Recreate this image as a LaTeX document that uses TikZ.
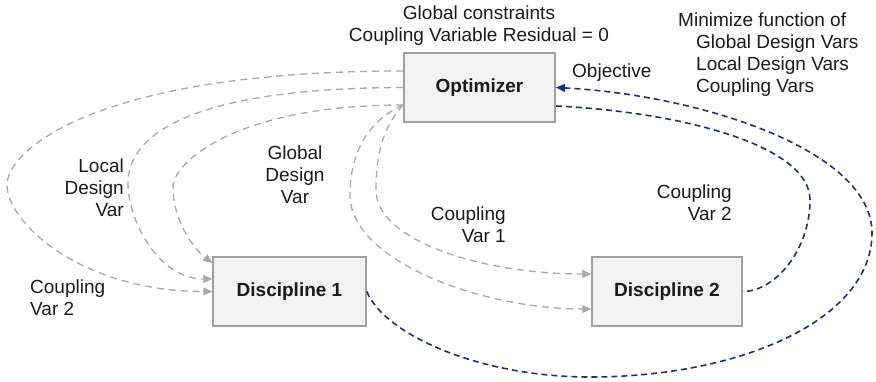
\documentclass[tikz,border=0pt]{standalone}
\usepackage{fontspec}
\setmainfont{Liberation Sans}
\usetikzlibrary{arrows.meta}
\definecolor{boxfill}{HTML}{F3F3F3}
\definecolor{boxline}{HTML}{A0A0A0}
\definecolor{flowgray}{HTML}{A8A8A8}
\definecolor{flowblue}{RGB}{35,45,125}
\definecolor{ink}{HTML}{1A1A1A}

\begin{document}
\begin{tikzpicture}[x=1pt,y=-1pt,
  every node/.style={inner sep=0pt, text=ink, font=\fontsize{19}{22}\selectfont},
  block/.style={draw=boxline, fill=boxfill, line width=1.5pt, minimum height=69pt,
    font=\fontsize{19}{22}\selectfont\bfseries},
  grayflow/.style={draw=flowgray, line width=1.3pt, dash pattern=on 7pt off 5pt,
    -{Triangle[length=9pt,width=8pt]}},
  blueflow/.style={draw=flowblue, line width=1.6pt, dash pattern=on 6pt off 4pt},
  bluetip/.style={-{Triangle[length=9pt,width=8pt]}},
]
\useasboundingbox (0,0) rectangle (876,382);

% boxes
\node[block, minimum width=151pt, line width=2pt] (opt) at (479.5,87.5) {Optimizer};
\node[block, minimum width=153pt] (d1) at (289.5,291.5) {Discipline 1};
\node[block, minimum width=150pt] (d2) at (667,291.5) {Discipline 2};

% annotations
\node[anchor=north, align=center] (cons) at (479,5.5)
  {Global constraints\\Coupling Variable Residual = 0};
\node[anchor=base west] (obj) at (572,78) {Objective};
\node[anchor=north west, align=left] (minf) at (678,12.4)
  {Minimize function of\\\hspace*{18pt}Global Design Vars\\\hspace*{18pt}Local Design Vars\\\hspace*{18pt}Coupling Vars};
\node[anchor=north east, align=right] (ldv) at (124,158.4) {Local\\Design\\Var};
\node[anchor=north, align=center] (gdv) at (295,145.5) {Global\\Design\\Var};
\node[anchor=north west, align=left] (cvl) at (30,279.4) {Coupling\\Var 2};
\node[anchor=north east, align=right] (cv1) at (506,207) {Coupling\\Var 1};
\node[anchor=north east, align=right] (cvr) at (732,184.7) {Coupling\\Var 2};

% optimizer -> discipline 1
\draw[grayflow] ([yshift=16.5pt]opt.west) .. controls (96,71) and (7,150) .. (7,185)
  .. controls (7,222) and (80,291.5) .. (d1.west);
\draw[grayflow] (opt.west) .. controls (188,88) and (128,136) .. (128,183)
  .. controls (128,220) and (158,279) .. ([yshift=12.5pt]d1.west);
\draw[grayflow] ([yshift=-17.5pt]opt.west) .. controls (235,105) and (173,163) .. (173,187)
  .. controls (173,222) and (195,250) .. ([yshift=28.5pt]d1.west);

% optimizer -> discipline 2
\draw[grayflow] ([yshift=-17.5pt]opt.west) .. controls (370,120) and (350,150) .. (350,195)
  .. controls (350,260) and (480,309) .. ([yshift=-17.5pt]d2.west);
\draw[grayflow] ([yshift=-17.5pt]opt.west) .. controls (385,125) and (376,150) .. (376,190)
  .. controls (376,240) and (480,274) .. ([yshift=17.5pt]d2.west);

% feedback to the optimizer
\draw[blueflow] ([yshift=-18.5pt]opt.east) .. controls (680,112) and (810,145) .. (810,200)
  .. controls (810,250) and (775,291.5) .. (d2.east);
\draw[blueflow, bluetip] (d1.east) .. controls (385,335) and (480,377) .. (590,377)
  .. controls (740,377) and (872,320) .. (872,233)
  .. controls (872,150) and (700,95) .. (opt.east);
\end{tikzpicture}
\end{document}
